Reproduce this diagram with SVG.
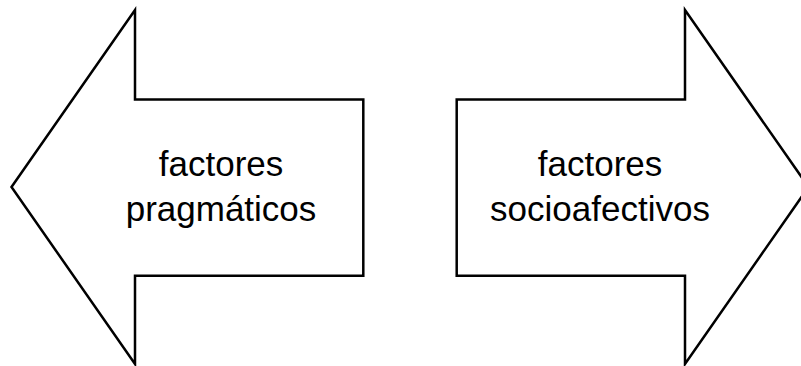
<svg xmlns="http://www.w3.org/2000/svg" width="801" height="366" viewBox="0 0 801 366">
<style>
.arrow{fill:#ffffff;stroke:#000000;stroke-width:2.5;stroke-linejoin:miter}
.lbl{font-family:"Liberation Sans",Arial,sans-serif;font-size:35px;fill:#000000;text-anchor:middle}
</style>
<rect width="801" height="366" fill="#ffffff"/>
<g id="node-pragmaticos">
<polygon class="arrow" points="11.5,187 135,10 135,99.5 363.3,99.5 363.3,275.7 135,275.7 135,364"/>
<text class="lbl" x="221" y="176">factores</text>
<text class="lbl" x="221" y="221">pragmáticos</text>
</g>
<g id="node-socioafectivos">
<polygon class="arrow" points="456.7,99.5 685,99.5 685,10 808.5,187 685,364 685,275.7 456.7,275.7"/>
<text class="lbl" x="600" y="176">factores</text>
<text class="lbl" x="600" y="221">socioafectivos</text>
</g>
<g id="connectors"></g>
</svg>
